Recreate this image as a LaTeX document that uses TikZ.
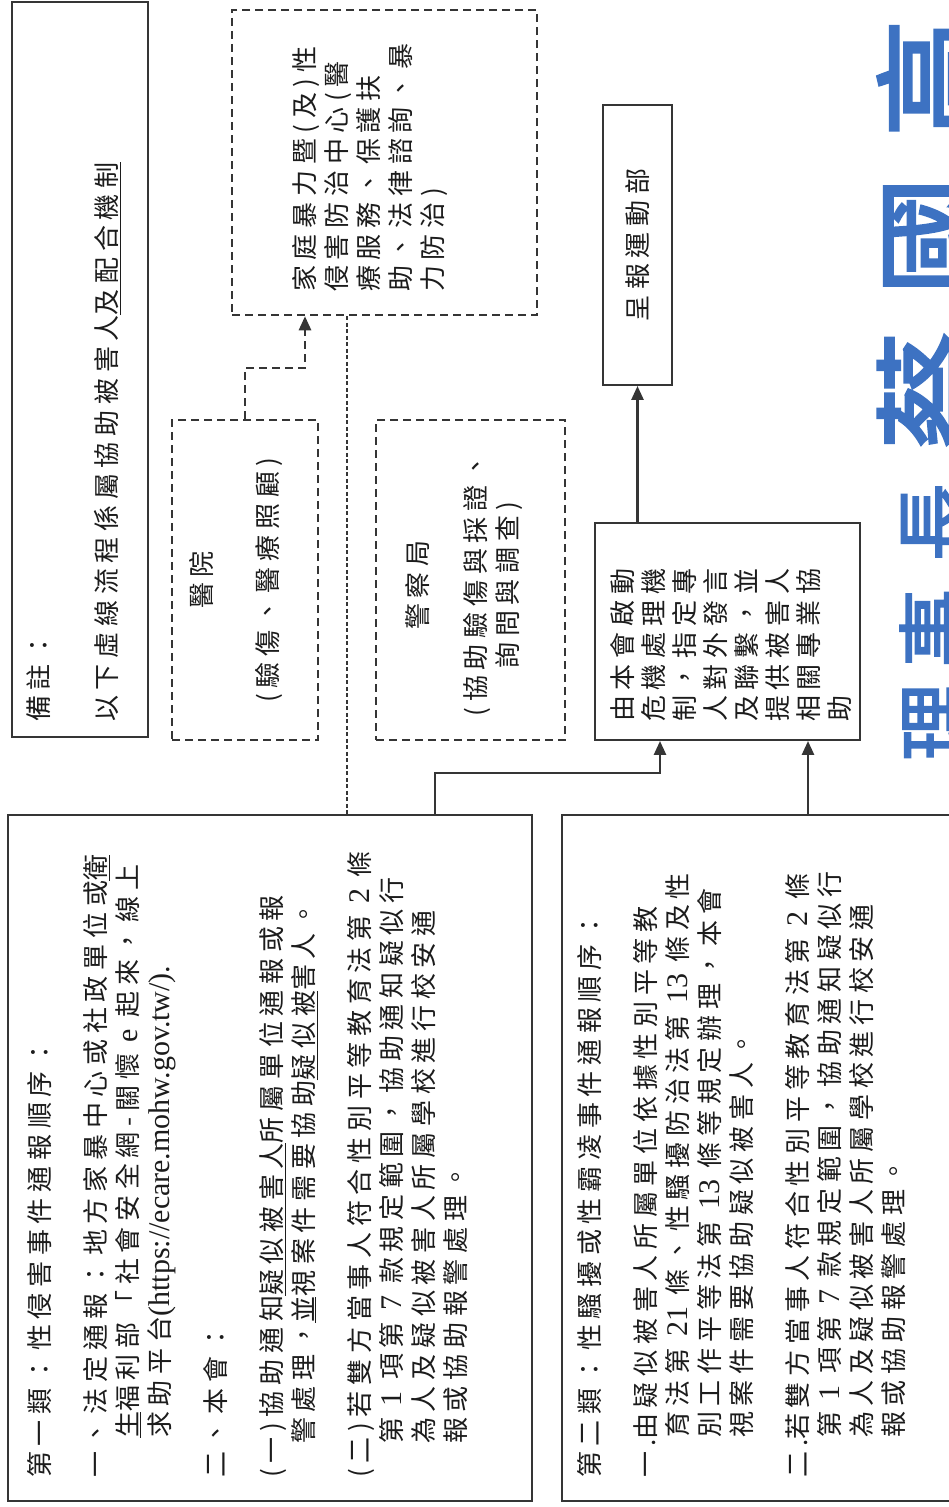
\documentclass[tikz,border=0pt]{standalone}
\usepackage{fontspec}
\setmainfont{Noto Sans CJK TC}[LetterSpace=22]
\newfontfamily\lat{Liberation Serif}
\newfontfamily\stampfont{Noto Sans CJK TC}[FakeBold=2.5]
\usetikzlibrary{arrows.meta,calc}
\definecolor{ink}{HTML}{1C1C1C}
\definecolor{lineg}{HTML}{353535}
\definecolor{stampblue}{HTML}{3D72C2}
\newcommand\ulx[1]{\underline{#1}}
\newcommand\indA{\hspace*{40pt}}
\newcommand\indB{\hspace*{34pt}}
\begin{document}
\begin{tikzpicture}[x=1pt,y=-1pt,
  solidbox/.style={draw=lineg, line width=1.9pt, inner sep=0pt},
  dashbox/.style={draw=lineg, line width=2.5pt, dash pattern=on 8pt off 5pt, inner sep=0pt},
  txt/.style={rotate=90, anchor=north west, inner sep=0pt, align=left, text=ink,
    font=\fontsize{26}{32}\selectfont},
  conn/.style={draw=lineg, line width=2.6pt, -{Triangle[length=14pt,width=12pt]}},
  dconn/.style={draw=lineg, line width=2.6pt, dash pattern=on 8pt off 5pt, -{Triangle[length=14pt,width=12pt]}},
  dotline/.style={draw=lineg, line width=1.7pt, dash pattern=on 4pt off 2.5pt},
  stamp/.style={rotate=90, inner sep=0pt, text=stampblue, font=\stampfont}
]
\useasboundingbox[fill=white] (0,0) rectangle (949,1507);

% boxes
\node[solidbox, minimum width=136pt, minimum height=735pt] (note) at (80,369.5) {};
\node[dashbox, minimum width=305pt, minimum height=305pt] (dv) at (384.5,162.5) {};
\node[solidbox, minimum width=69pt, minimum height=280pt] (report) at (637.5,245) {};
\node[dashbox, minimum width=146pt, minimum height=320pt] (hosp) at (245,580) {};
\node[dashbox, minimum width=189pt, minimum height=320pt] (police) at (470.5,580) {};
\node[solidbox, minimum width=265pt, minimum height=217pt] (crisis) at (727.5,631.5) {};
\node[solidbox, minimum width=524pt, minimum height=686pt] (box1) at (270,1158) {};
\node[solidbox, minimum width=400pt, minimum height=686pt] (box2) at (762,1158) {};

% texts
\node[txt] (notet) at (26,722) {備註：\\[36pt]以下虛線流程係屬協助被害人\ulx{及配合機制}};
\node[txt] (dvt) at (292,292) {家庭暴力暨(及)性\\侵害防治中心(醫\\療服務、保護扶\\助、法律諮詢、暴\\力防治)};
\node[txt, anchor=center] (reportt) at (report.center) {呈報運動部};
\node[txt, anchor=center, align=center] (hospt) at (236,580) {醫院\\[34pt](驗傷、醫療照顧)};
\node[txt, anchor=center, align=center] (policet) at (464,585) {警察局\\[26pt](協助驗傷與採證、\\詢問與調查)};
\node[txt, font=\fontsize{26}{31}\selectfont] (crisist) at (610,722) {由本會啟動\\危機處理機\\制，指定專\\人對外發言\\及聯繫，並\\提供被害人\\相關專業協\\助};

\node[txt] (box1t) at (27,1478) {第一類：性侵害事件通報順序：\\[24pt]
一、法定通報：地方家暴中心或社政單位或\ulx{衛}\\
\indA\ulx{生}福利部「社會安全網-關懷 {\lat\fontsize{30}{32}\selectfont e} 起來，線上\\
\indA 求助平台{\lat\fontsize{30}{32}\selectfont (https://ecare.mohw.gov.tw/).}\\[24pt]
二、本會：\\[24pt]
(一)協助通知\ulx{疑似被害人}所屬單位通報或報\\
\indB 警處理，\ulx{並}視案件需要協助\ulx{疑似被}害人。\\[24pt]
(二)若雙方當事人符合性別平等教育法第 {\lat\fontsize{30}{32}\selectfont 2} 條\\
\indB 第 {\lat\fontsize{30}{32}\selectfont 1} 項第 {\lat\fontsize{30}{32}\selectfont 7} 款規定範圍，協助通知疑似行\\
\indB 為人及疑似被害人所屬學校進行校安通\\
\indB 報或協助報警處理。};

\node[txt] (box2t) at (577,1478) {第二類：性騷擾或性霸凌事件通報順序：\\[24pt]
\makebox[38pt][l]{一.}由疑似被害人所屬單位依據性別平等教\\
\indA 育法第 {\lat\fontsize{30}{32}\selectfont 21} 條、性騷擾防治法第 {\lat\fontsize{30}{32}\selectfont 13} 條及性\\
\indA 別工作平等法第 {\lat\fontsize{30}{32}\selectfont 13} 條等規定辦理，本會\\
\indA 視案件需要協助疑似被害人。\\[24pt]
\makebox[38pt][l]{二.}若雙方當事人符合性別平等教育法第 {\lat\fontsize{30}{32}\selectfont 2} 條\\
\indA 第 {\lat\fontsize{30}{32}\selectfont 1} 項第 {\lat\fontsize{30}{32}\selectfont 7} 款規定範圍，協助通知疑似行\\
\indA 為人及疑似被害人所屬學校進行校安通\\
\indA 報或協助報警處理。};

% stamp (cut off at the right edge, as in the reference)
\node[stamp, font=\stampfont\fontsize{78}{78}\selectfont] (s1) at (936,722) {理};
\node[stamp, font=\stampfont\fontsize{78}{78}\selectfont] (s2) at (936,628) {事};
\node[stamp, font=\stampfont\fontsize{78}{78}\selectfont] (s3) at (936,522) {長};
\node[stamp, font=\stampfont\fontsize{118}{118}\selectfont] (s4) at (932,390) {蔡};
\node[stamp, font=\stampfont\fontsize{118}{118}\selectfont] (s5) at (936,236) {國};
\node[stamp, font=\stampfont\fontsize{118}{118}\selectfont] (s6) at (932,78) {高};

% connectors
\coordinate (dotx) at (347,0);
\draw[dotline] (dv.south -| dotx) -- (box1.north -| dotx);
\coordinate (hx) at (305,368);
\draw[dconn] (hosp.north) |- (hx) -- (dv.south -| hx);
\coordinate (c1x) at (435,0);
\coordinate (c1) at (660,773);
\draw[conn] (box1.north -| c1x) |- (c1) -- (crisis.south -| c1);
\coordinate (c2x) at (808,0);
\draw[conn] (box2.north -| c2x) -- (crisis.south -| c2x);
\draw[conn] (crisis.north -| report.south) -- (report.south);
\end{tikzpicture}
\end{document}
